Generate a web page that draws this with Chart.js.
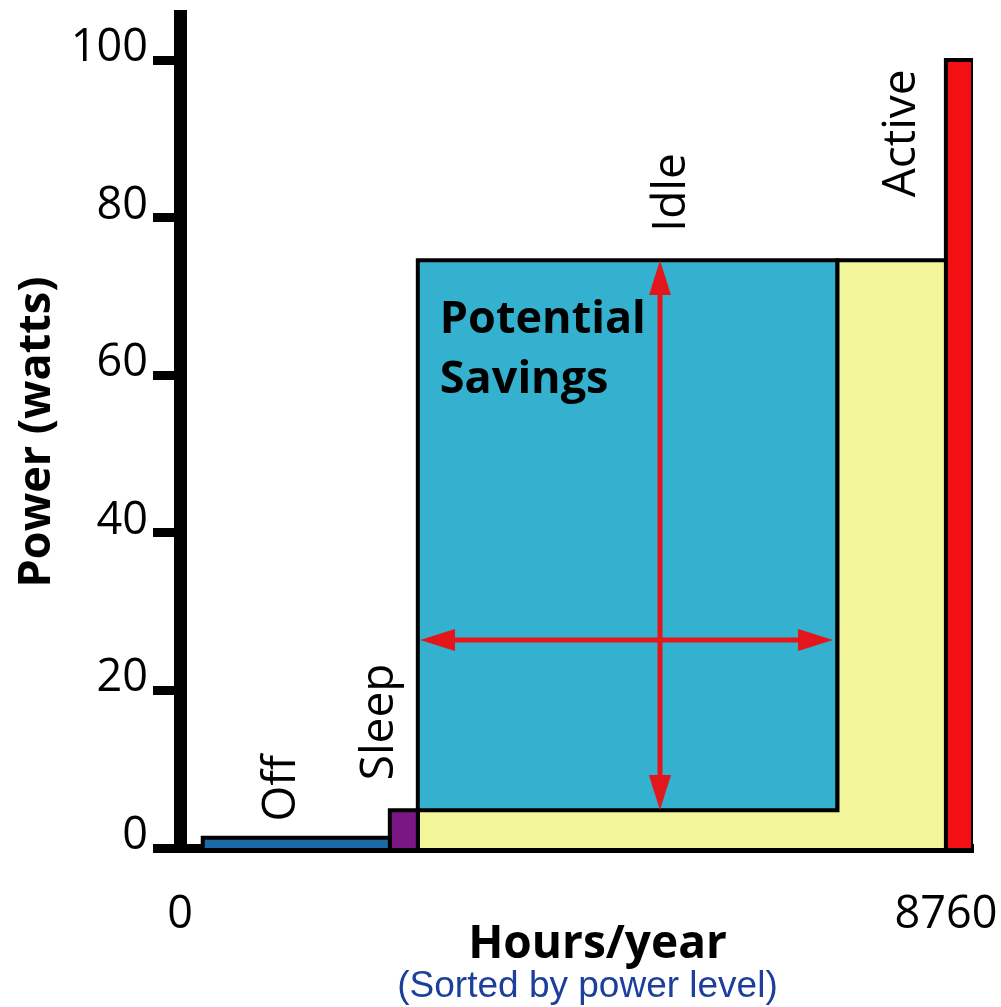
<!DOCTYPE html>
<html lang="en">
<head>
<meta charset="UTF-8">
<title>Power by operating mode</title>
<script src="https://cdn.jsdelivr.net/npm/chart.js"></script>
<style>
  html, body { margin: 0; padding: 0; background: #fff; }
</style>
</head>
<body>
<canvas id="power-chart" width="1001" height="1007"></canvas>
<script>
// operating modes, sorted by power level
const modes = ["Off", "Sleep", "Idle", "Active"];
const modeWatts = [1.3, 4.8, 74.6, 100];
// hour marks where Off, Sleep, Idle, Active start, plus where Active ends
const modeHours = [260, 2400, 2720, 8760, 9070];
// idle time that could run at sleep level instead
const savingsHours = [2720, 7520];
const savingsWatts = [4.8, 74.6];
// double arrows inside the savings block
const arrowHour = 5490;            // vertical arrow
const arrowWatts = 26.4;           // horizontal arrow
const arrowSpan = [2745, 7470];    // horizontal arrow tips
const yTicks = [0, 20, 40, 60, 80, 100];
const xTicks = [0, 8760];

const arrowRed = "#e3161b";

// arrow head: tip sits at the image centre, so the point value is the tip
const head = document.createElement("canvas");
head.width = 22; head.height = 70;
const hctx = head.getContext("2d");
hctx.fillStyle = arrowRed;
hctx.beginPath();
hctx.moveTo(11, 35); hctx.lineTo(22, 70); hctx.lineTo(0, 70);
hctx.closePath(); hctx.fill();

function box(h0, h1, w0, w1) {
    return [{x: h0, y: w0}, {x: h0, y: w1}, {x: h1, y: w1}, {x: h1, y: w0}];
}

function shape(data, color, fill) {
    return {
        data: data,
        borderColor: "#000",
        borderWidth: 4,
        borderJoinStyle: "miter",
        backgroundColor: color,
        fill: fill,
        pointRadius: 0
    };
}

// Idle is an L: the part under the savings block plus the last column
const idleShape = [
    {x: modeHours[2], y: 0},
    {x: modeHours[2], y: savingsWatts[0]},
    {x: savingsHours[1], y: savingsWatts[0]},
    {x: savingsHours[1], y: modeWatts[2]},
    {x: modeHours[3], y: modeWatts[2]},
    {x: modeHours[3], y: 0}
];

Chart.defaults.font.family = "'Open Sans', sans-serif";
Chart.defaults.color = "#000";

const notes = {
    id: "notes",
    afterDatasetsDraw(chart) {
        const {ctx, scales: {x, y}} = chart;
        // label spots for each mode, in hours / watts
        const spots = [[1166, 7.6], [2287, 16.0], [5626, 83.2], [8257, 90.7]];
        ctx.save();
        ctx.fillStyle = "#000";
        ctx.font = "46px 'Open Sans'";
        ctx.textAlign = "center";
        ctx.textBaseline = "middle";
        spots.forEach(([h, w], i) => {
            ctx.save();
            ctx.translate(x.getPixelForValue(h), y.getPixelForValue(w));
            ctx.rotate(-Math.PI / 2);
            ctx.fillText(modes[i], 0, 0);
            ctx.restore();
        });

        const left = x.getPixelForValue(savingsHours[0]) + 22;
        const top = y.getPixelForValue(savingsWatts[1]);
        ctx.font = "bold 45px 'Open Sans'";
        ctx.textAlign = "left";
        ctx.textBaseline = "alphabetic";
        ctx.fillText("Potential", left, top + 73);
        ctx.fillText("Savings", left, top + 133);

        const mid = (chart.chartArea.left + chart.chartArea.right) / 2;
        ctx.textAlign = "center";
        ctx.font = "bold 46px 'Open Sans'";
        ctx.fillText("Hours/year", mid + 21, 958);
        ctx.font = "37px 'Liberation Sans'";
        ctx.fillStyle = "#1c3f9c";
        ctx.fillText("(Sorted by power level)", mid + 11, 997);
        ctx.restore();
    }
};

new Chart(document.getElementById("power-chart").getContext("2d"), {
    type: "line",
    data: {
        datasets: [
            {
                data: [
                    {x: arrowHour, y: savingsWatts[1]},
                    {x: arrowHour, y: savingsWatts[0]},
                    {x: arrowSpan[0], y: arrowWatts},
                    {x: arrowSpan[1], y: arrowWatts}
                ],
                showLine: false,
                pointStyle: head,
                pointRadius: 10,
                pointRotation: [0, 180, 270, 90]
            },
            {
                data: [{x: arrowHour, y: savingsWatts[0] + 1.5}, {x: arrowHour, y: savingsWatts[1] - 1.5}],
                borderColor: arrowRed, borderWidth: 5, pointRadius: 0
            },
            {
                data: [{x: arrowSpan[0] + 140, y: arrowWatts}, {x: arrowSpan[1] - 140, y: arrowWatts}],
                borderColor: arrowRed, borderWidth: 5, pointRadius: 0
            },
            shape(box(modeHours[0], modeHours[1], 0, modeWatts[0]), "#1b6aa5", "origin"),
            shape(box(modeHours[1], modeHours[2], 0, modeWatts[1]), "#7b1685", "origin"),
            shape(idleShape, "#f3f59a", "origin"),
            shape(box(modeHours[3], modeHours[4], 0, modeWatts[3]), "#f40f12", "origin"),
            shape(box(savingsHours[0], savingsHours[1], savingsWatts[0], savingsWatts[1]), "#33b1cf", {value: savingsWatts[0]})
        ]
    },
    options: {
        responsive: false,
        animation: false,
        events: [],
        layout: { padding: { top: 16, right: 28, bottom: 0, left: 0 } },
        plugins: { legend: { display: false }, tooltip: { enabled: false } },
        scales: {
            x: {
                type: "linear",
                min: 0,
                max: modeHours[4],
                afterBuildTicks: s => { s.ticks = xTicks.map(v => ({value: v})); },
                afterFit: s => { s.height = 159; s.paddingLeft = 0; s.paddingRight = 0; },
                ticks: {
                    font: { size: 45 },
                    padding: 0,
                    maxRotation: 0,
                    autoSkip: false,
                    callback: v => String(v)
                },
                grid: { display: false, drawTicks: true, tickLength: 40 },
                border: { display: true, color: "#000", width: 9 }
            },
            y: {
                min: 0,
                max: 105.6,
                afterBuildTicks: s => { s.ticks = yTicks.map(v => ({value: v})); },
                afterFit: s => { s.width = 180; s.paddingTop = 0; s.paddingBottom = 0; },
                ticks: { font: { size: 45 }, padding: 5, labelOffset: -12 },
                grid: { drawOnChartArea: false, tickLength: 27, lineWidth: 9, color: "#000" },
                border: { color: "#000", width: 13 },
                title: {
                    display: true,
                    text: "Power (watts)",
                    font: { size: 45, weight: "bold" },
                    padding: { top: 10, bottom: 0 }
                }
            }
        }
    },
    plugins: [notes]
});
</script>
</body>
</html>
